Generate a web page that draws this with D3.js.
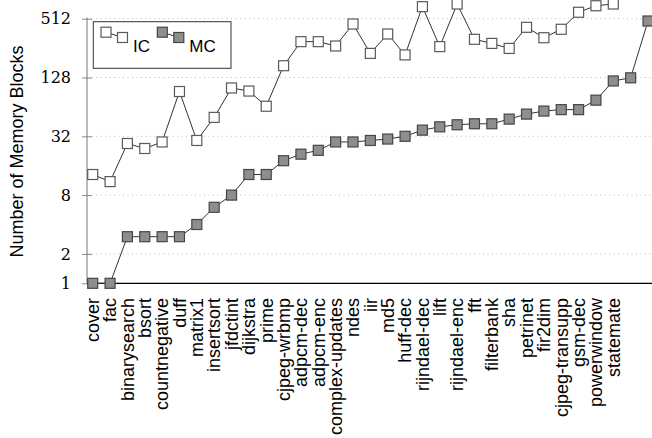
<!DOCTYPE html>
<html lang="en">
<head>
    <meta charset="UTF-8">
    <title>Memory blocks per benchmark</title>
    <script src="https://d3js.org/d3.v7.min.js"></script>
    <style>
        body { margin: 0; background: #fff; }
        svg { display: block; }
    </style>
</head>
<body>
<svg width="652" height="438"></svg>
<script type="text/javascript">

    // benchmark names (tick labels), only the first 31 are labelled in the plot
    var benchmarks = ["cover", "fac", "binarysearch", "bsort", "countnegative", "duff", "matrix1",
        "insertsort", "jfdctint", "dijkstra", "prime", "cjpeg-wrbmp", "adpcm-dec", "adpcm-enc",
        "complex-updates", "ndes", "iir", "md5", "huff-dec", "rijndael-dec", "lift", "rijndael-enc",
        "fft", "filterbank", "sha", "petrinet", "fir2dim", "cjpeg-transupp", "gsm-dec",
        "powerwindow", "statemate"];

    // IC series
    var icValues = [13, 11, 27, 24, 28, 92, 29, 50, 100, 93, 65, 169, 298, 298, 269, 452, 226,
        357, 218, 680, 265, 724, 315, 286, 254, 418, 327, 399, 596, 695, 724];

    // MC series (two more points than there are labels)
    var mcValues = [1, 1, 3, 3, 3, 3, 4, 6, 8, 13, 13, 18, 21, 23, 28, 28, 29, 30, 32, 37, 40,
        42, 43, 43, 48, 54, 58, 60, 60, 75, 118, 127, 485];

    var yTicks = [1, 2, 8, 32, 128, 512];

    var width = 652;
    var height = 438;
    var svg = d3.select("svg")
        .attr("width", width)
        .attr("height", height);

    var axisX = 87;   // left axis position
    var x = d3.scaleLinear()
        .domain([0, mcValues.length - 1])
        .range([92.7, 648]);
    var y = d3.scaleLog()
        .base(2)
        .domain([1, 512])
        .range([283.3, 18.7]);

    // dotted grid lines
    svg.append("g")
        .selectAll("line")
        .data(yTicks)
        .enter().append("line")
        .attr("x1", axisX)
        .attr("x2", width)
        .attr("y1", function(d) { return y(d); })
        .attr("y2", function(d) { return y(d); })
        .attr("stroke", "#b8b8b8")
        .attr("stroke-width", 1)
        .attr("stroke-dasharray", "1,3.5");

    // left axis with tick labels
    var yAxis = d3.axisLeft(y)
        .tickValues(yTicks)
        .tickFormat(d3.format("d"))
        .tickSizeInner(5)
        .tickSizeOuter(0)
        .tickPadding(11);
    var gy = svg.append("g")
        .attr("transform", "translate(" + axisX + ",0)")
        .call(yAxis);
    gy.select(".domain")
        .attr("stroke", "#777")
        .attr("d", "M0," + (y(512) - 1) + "V" + y(1));
    gy.selectAll(".tick line")
        .attr("stroke", "#888")
        .attr("x1", 5);
    gy.selectAll(".tick text")
        .attr("fill", "#000")
        .style("font-family", "'DejaVu Serif', serif")
        .style("font-size", "16px");

    // bottom axis line
    svg.append("line")
        .attr("x1", axisX)
        .attr("x2", width)
        .attr("y1", y(1))
        .attr("y2", y(1))
        .attr("stroke", "#000")
        .attr("stroke-width", 1.3);

    // rotated benchmark labels
    svg.append("g")
        .selectAll("text")
        .data(benchmarks)
        .enter().append("text")
        .attr("transform", function(d, i) { return "translate(" + x(i) + ",298) rotate(-90)"; })
        .attr("text-anchor", "end")
        .attr("dy", "0.35em")
        .style("font-family", "'Liberation Sans', Arial, sans-serif")
        .style("font-size", "18px")
        .text(function(d) { return d; });

    // y axis title
    svg.append("text")
        .attr("transform", "translate(17,151.5) rotate(-90)")
        .attr("text-anchor", "middle")
        .attr("dy", "0.35em")
        .style("font-family", "'Liberation Sans', Arial, sans-serif")
        .style("font-size", "18px")
        .text("Number of Memory Blocks");

    var line = d3.line()
        .x(function(d, i) { return x(i); })
        .y(function(d) { return y(d); });

    var series = [
        { name: "IC", values: icValues, fill: "#ffffff", stroke: "#5a5a5a" },
        { name: "MC", values: mcValues, fill: "#8e8e8e", stroke: "#454545" }
    ];

    var marker = 10;
    series.forEach(function(s) {
        svg.append("path")
            .datum(s.values)
            .attr("d", line)
            .attr("fill", "none")
            .attr("stroke", "#333")
            .attr("stroke-width", 1);
        svg.append("g")
            .selectAll("rect")
            .data(s.values)
            .enter().append("rect")
            .attr("x", function(d, i) { return x(i) - marker / 2; })
            .attr("y", function(d) { return y(d) - marker / 2; })
            .attr("width", marker)
            .attr("height", marker)
            .attr("fill", s.fill)
            .attr("stroke", s.stroke)
            .attr("stroke-width", 1.2);
    });

    // legend
    var legend = svg.append("g");
    legend.append("rect")
        .attr("x", 93.3)
        .attr("y", 21.7)
        .attr("width", 137.7)
        .attr("height", 46.6)
        .attr("fill", "#fff")
        .attr("stroke", "#333")
        .attr("stroke-width", 1);
    var legendPos = [106, 162.3];
    series.forEach(function(s, k) {
        var lx = legendPos[k];
        legend.append("line")
            .attr("x1", lx).attr("y1", 32.2)
            .attr("x2", lx + 16.5).attr("y2", 37.5)
            .attr("stroke", "#333");
        [[lx, 32.2], [lx + 16.5, 37.5]].forEach(function(p) {
            legend.append("rect")
                .attr("x", p[0] - marker / 2)
                .attr("y", p[1] - marker / 2)
                .attr("width", marker)
                .attr("height", marker)
                .attr("fill", s.fill)
                .attr("stroke", s.stroke)
                .attr("stroke-width", 1.2);
        });
        legend.append("text")
            .attr("x", lx + 27)
            .attr("y", 52.3)
            .style("font-family", "'Liberation Sans', Arial, sans-serif")
            .style("font-size", "17px")
            .text(s.name);
    });

</script>
</body>
</html>
